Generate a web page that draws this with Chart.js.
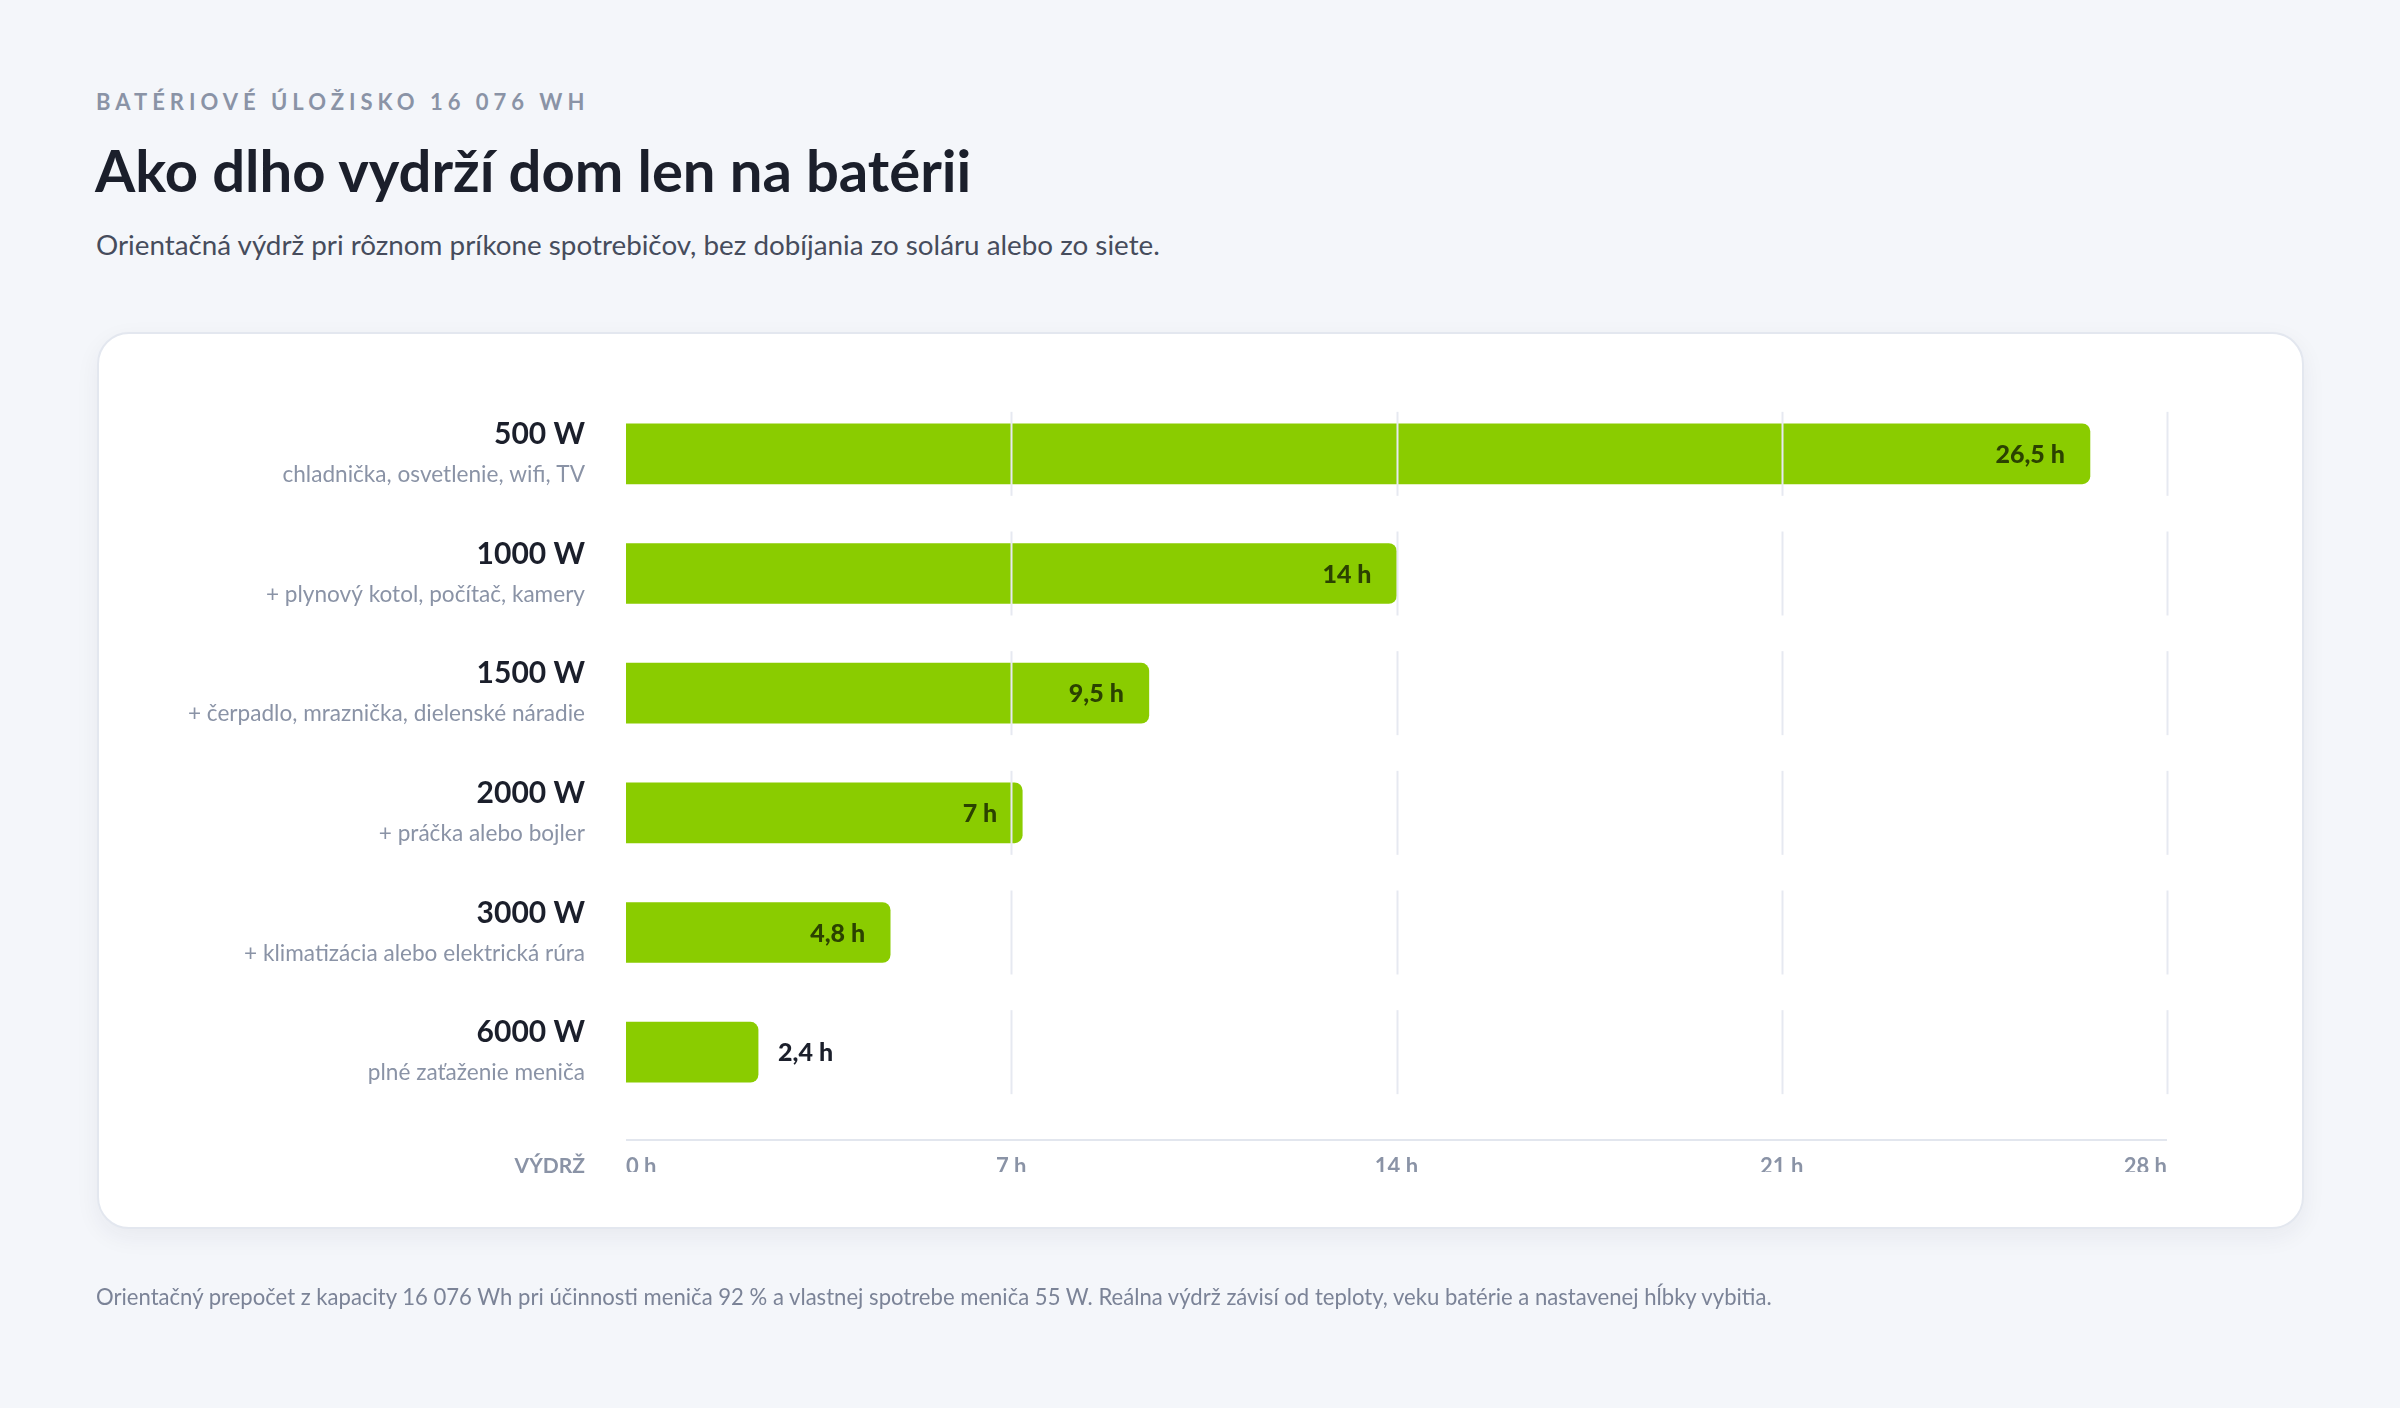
<!DOCTYPE html>
<html lang="sk">
<head>
<meta charset="utf-8">
<title>Výdrž batérie</title>
<script src="https://cdn.jsdelivr.net/npm/chart.js@4.4.0/dist/chart.umd.min.js"></script>
<style>
  html, body { margin: 0; padding: 0; }
  body {
    width: 2400px; height: 1408px; overflow: hidden; position: relative;
    background: #f4f6fa; font-family: Lato, "Noto Sans", sans-serif;
  }
  .eyebrow {
    position: absolute; left: 96px; top: 91px; font-size: 22px; line-height: 22px;
    font-weight: 700; letter-spacing: 5px; color: #8a93a6;
  }
  .title {
    position: absolute; left: 95px; top: 141px; font-size: 58px; line-height: 58px;
    font-weight: 700; color: #1b1f2b;
  }
  .subtitle {
    position: absolute; left: 96px; top: 231px; font-size: 27.8px; line-height: 28px;
    color: #464c5c;
  }
  .card {
    position: absolute; left: 97px; top: 332px; width: 2203px; height: 893px;
    background: #fff; border: 2px solid #e3e7ef; border-radius: 32px;
    box-shadow: 0 8px 24px rgba(30, 40, 70, 0.06);
  }
  .footnote {
    position: absolute; left: 96px; top: 1286px; font-size: 22.1px; line-height: 22px;
    color: #7b8397;
  }
  #chart { position: absolute; left: 0; top: 0; }
</style>
</head>
<body>
<div class="eyebrow">BATÉRIOVÉ ÚLOŽISKO 16 076 WH</div>
<div class="title">Ako dlho vydrží dom len na batérii</div>
<div class="subtitle">Orientačná výdrž pri rôznom príkone spotrebičov, bez dobíjania zo soláru alebo zo siete.</div>
<div class="card"></div>
<canvas id="chart" width="2400" height="1408"></canvas>
<div class="footnote">Orientačný prepočet z kapacity 16 076 Wh pri účinnosti meniča 92 % a vlastnej spotrebe meniča 55 W. Reálna výdrž závisí od teploty, veku batérie a nastavenej hĺbky vybitia.</div>

<script>
// Dáta
const powerLabels = ['500 W', '1000 W', '1500 W', '2000 W', '3000 W', '6000 W'];
const loadNotes = [
    'chladnička, osvetlenie, wifi, TV',
    '+ plynový kotol, počítač, kamery',
    '+ čerpadlo, mraznička, dielenské náradie',
    '+ práčka alebo bojler',
    '+ klimatizácia alebo elektrická rúra',
    'plné zaťaženie meniča'
];
const hoursValues = [26.6, 14.0, 9.5, 7.2, 4.8, 2.4];
const hoursText = ['26,5 h', '14 h', '9,5 h', '7 h', '4,8 h', '2,4 h'];
const xTicks = [0, 7, 14, 21, 28];

const GREEN = '#8acc00';
const GRID = '#e6e9f1';

// Popisky riadkov (výkon + spotrebiče) a "VÝDRŽ"
const rowLabels = {
    id: 'rowLabels',
    afterDraw(chart) {
        const c = chart.ctx;
        const y = chart.scales.y;
        const right = chart.chartArea.left - 41;
        c.save();
        c.textAlign = 'right';
        c.textBaseline = 'alphabetic';
        powerLabels.forEach((lab, i) => {
            const cy = y.getPixelForValue(i);
            c.font = 'bold 30px Lato';
            c.fillStyle = '#1b1f2b';
            c.fillText(lab, right, cy - 10);
            c.font = '22.6px Lato';
            c.fillStyle = '#8a93a6';
            c.fillText(loadNotes[i], right, cy + 28);
        });
        c.font = 'bold 21px Lato';
        c.fillStyle = '#8a93a6';
        c.fillText('VÝDRŽ', right, 1173);
        c.restore();
    }
};

// Mriežka po riadkoch, os a hodnoty na stĺpcoch
const barExtras = {
    id: 'barExtras',
    afterDatasetsDraw(chart) {
        const c = chart.ctx;
        const x = chart.scales.x;
        const y = chart.scales.y;
        const area = chart.chartArea;
        c.save();
        c.strokeStyle = GRID;
        c.lineWidth = 2;
        xTicks.slice(1).forEach(t => {
            const px = Math.round(x.getPixelForValue(t)) + 0.5;
            powerLabels.forEach((_, i) => {
                const cy = y.getPixelForValue(i);
                c.beginPath();
                c.moveTo(px, cy - 42);
                c.lineTo(px, cy + 42);
                c.stroke();
            });
        });
        // os x
        c.strokeStyle = '#e2e6ee';
        c.beginPath();
        c.moveTo(area.left, area.bottom + 28);
        c.lineTo(area.right, area.bottom + 28);
        c.stroke();

        // hodnoty
        const meta = chart.getDatasetMeta(0);
        c.font = '900 25px Lato';
        c.textBaseline = 'middle';
        meta.data.forEach((bar, i) => {
            const w = bar.x - bar.base;
            if (w > 160) {
                c.textAlign = 'right';
                c.fillStyle = '#2b4200';
                c.fillText(hoursText[i], bar.x - 25, bar.y + 1);
            } else {
                c.textAlign = 'left';
                c.fillStyle = '#1b1f2b';
                c.fillText(hoursText[i], bar.x + 20, bar.y + 1);
            }
        });
        c.restore();
    }
};

function draw() {
    Chart.defaults.font.family = 'Lato';
    new Chart(document.getElementById('chart'), {
        type: 'bar',
        data: {
            labels: powerLabels,
            datasets: [{
                data: hoursValues,
                backgroundColor: GREEN,
                barThickness: 60,
                borderRadius: { topRight: 8, bottomRight: 8, topLeft: 0, bottomLeft: 0 },
                borderSkipped: false
            }]
        },
        options: {
            indexAxis: 'y',
            responsive: false,
            animation: false,
            devicePixelRatio: 1,
            layout: { padding: { left: 626, right: 233, top: 394, bottom: 236 } },
            plugins: { legend: { display: false }, tooltip: { enabled: false } },
            scales: {
                y: { type: 'category', display: false },
                x: {
                    min: 0,
                    max: 28,
                    afterBuildTicks: s => { s.ticks = xTicks.map(v => ({ value: v })); },
                    afterFit: s => { s.height = 60; },
                    grid: { display: false, drawTicks: false },
                    border: { display: false },
                    ticks: {
                        align: 'inner',
                        padding: 42,
                        color: '#8a93a6',
                        font: { size: 22, weight: 'bold' },
                        callback: v => v + ' h'
                    }
                }
            }
        },
        plugins: [rowLabels, barExtras]
    });
}

Promise.all([
    document.fonts.load('bold 30px Lato'),
    document.fonts.load('22px Lato'),
    document.fonts.load('900 25px Lato')
]).then(draw, draw);
</script>
</body>
</html>
